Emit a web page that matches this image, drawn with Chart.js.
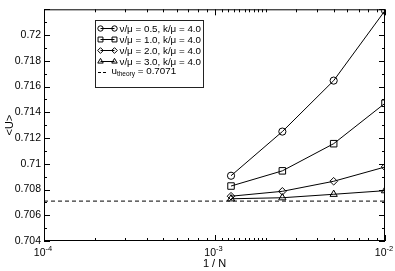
<!DOCTYPE html>
<html><head><meta charset="utf-8">
<script src="https://cdn.jsdelivr.net/npm/chart.js@4.4.0/dist/chart.umd.min.js"></script>
<style>html,body{margin:0;padding:0;background:#fff}#wrap{width:395px;height:271px;position:relative}</style>
</head><body><div id="wrap"><canvas id="c" width="395" height="271"></canvas></div>
<script>
// ---- data ----
const invN = [0.00125, 0.0025, 0.005, 0.01];
const uNu05 = [0.70907, 0.71250, 0.71646, 0.72190];
const uNu10 = [0.70827, 0.70945, 0.71156, 0.71470];
const uNu20 = [0.70748, 0.70786, 0.70864, 0.70975];
const uNu30 = [0.70728, 0.70736, 0.70763, 0.70791];
const uTheory = 0.7071;
const theoryX = [0.0001, 0.01];
const seriesLabels = ['ν/μ = 0.5, k/μ = 4.0', 'ν/μ = 1.0, k/μ = 4.0', 'ν/μ = 2.0, k/μ = 4.0', 'ν/μ = 3.0, k/μ = 4.0'];
const theoryLabel = ['u', 'theory', ' = 0.7071'];
const xMajorTicks = [1e-4, 1e-3, 1e-2];
const xMinorTicks = [2e-4,3e-4,4e-4,5e-4,6e-4,7e-4,8e-4,9e-4,
  1.1e-3,1.2e-3,1.3e-3,1.4e-3,1.5e-3,1.6e-3,1.7e-3,1.8e-3,1.9e-3,2e-3,
  3e-3,4e-3,5e-3,6e-3,7e-3,8e-3,9e-3];
const yMajorTicks = [0.704,0.706,0.708,0.710,0.712,0.714,0.716,0.718,0.720,0.722];
const yMinorTicks = [0.705,0.707,0.709,0.711,0.713,0.715,0.717,0.719,0.721];
const xTitle = '1 / N';
const yTitle = '<U>';

const FONT = "'Liberation Sans', Arial, Helvetica, sans-serif";
const styles = ['circle', 'rect', 'rectRot', 'triangle'];
const radii = [3.6, 4.6, 3.8, 4.2];
const seriesData = [uNu05, uNu10, uNu20, uNu30];

function mkSeries(i) {
  return {
    label: seriesLabels[i],
    data: invN.map((x, k) => ({x: x, y: seriesData[i][k]})),
    borderColor: '#000', borderWidth: 1, tension: 0,
    pointStyle: styles[i], pointRadius: radii[i],
    pointBorderColor: '#000', pointBackgroundColor: 'rgba(0,0,0,0)', pointBorderWidth: 1
  };
}

const datasets = [0,1,2,3].map(mkSeries);
datasets.push({
  label: theoryLabel.join(''),
  data: theoryX.map(x => ({x: x, y: uTheory})),
  borderColor: '#000', borderWidth: 1, borderDash: [4, 3], pointRadius: 0, tension: 0
});

function drawMarker(ctx, style, x, y, r) {
  ctx.beginPath();
  if (style === 'circle') ctx.arc(x, y, r, 0, Math.PI * 2);
  else if (style === 'rect') { const s = r * Math.SQRT1_2; ctx.rect(x - s, y - s, 2 * s, 2 * s); }
  else if (style === 'rectRot') { ctx.moveTo(x - r, y); ctx.lineTo(x, y - r); ctx.lineTo(x + r, y); ctx.lineTo(x, y + r); ctx.closePath(); }
  else if (style === 'triangle') {
    ctx.moveTo(x, y - r); ctx.lineTo(x + r * 0.866, y + r * 0.5); ctx.lineTo(x - r * 0.866, y + r * 0.5); ctx.closePath();
  }
  ctx.stroke();
}

const framePlugin = {
  id: 'frameTicks',
  afterDatasetsDraw(chart) {
    const ctx = chart.ctx, a = chart.chartArea;
    const xs = chart.scales.x, ys = chart.scales.y;
    ctx.save();
    ctx.strokeStyle = '#000'; ctx.lineWidth = 1;
    ctx.strokeRect(a.left + 0.5, a.top + 0.5, a.right - a.left - 1, a.bottom - a.top - 1);
    ctx.beginPath();
    const tickX = (v, len) => {
      const px = Math.round(xs.getPixelForValue(v)) + 0.5;
      ctx.moveTo(px, a.bottom); ctx.lineTo(px, a.bottom - len);
      ctx.moveTo(px, a.top); ctx.lineTo(px, a.top + len);
    };
    const tickY = (v, len) => {
      const py = Math.round(ys.getPixelForValue(v)) + 0.5;
      ctx.moveTo(a.left, py); ctx.lineTo(a.left + len, py);
      ctx.moveTo(a.right, py); ctx.lineTo(a.right - len, py);
    };
    xMajorTicks.forEach(v => tickX(v, 6));
    xMinorTicks.forEach(v => tickX(v, 3));
    yMajorTicks.forEach(v => tickY(v, 6));
    yMinorTicks.forEach(v => tickY(v, 3));
    ctx.stroke();

    // x tick labels: 10 with superscript exponent
    ctx.fillStyle = '#000';
    ctx.textBaseline = 'alphabetic';
    ctx.textAlign = 'left';
    xMajorTicks.forEach(v => {
      const e = String(Math.round(Math.log10(v)));
      const px = xs.getPixelForValue(v);
      ctx.font = '10.5px ' + FONT;
      const wb = ctx.measureText('10').width;
      ctx.font = '7.5px ' + FONT;
      const we = ctx.measureText(e).width;
      const x0 = px - (wb + we) / 2 - 1;
      ctx.font = '10.5px ' + FONT;
      ctx.fillText('10', x0, a.bottom + 15);
      ctx.font = '7.5px ' + FONT;
      ctx.fillText(e, x0 + wb, a.bottom + 10);
    });

    // legend
    const bx = 95.5, by = 20.5, bw = 108, bh = 67;
    ctx.fillStyle = '#fff';
    ctx.fillRect(bx, by, bw, bh);
    ctx.strokeStyle = '#222';
    ctx.strokeRect(bx, by, bw, bh);
    ctx.strokeStyle = '#000';
    ctx.fillStyle = '#000';
    ctx.textBaseline = 'middle';
    ctx.textAlign = 'left';
    ctx.font = '9.8px ' + FONT;
    for (let i = 0; i < 4; i++) {
      const y = 28.5 + i * 11;
      ctx.beginPath(); ctx.moveTo(100.5, y); ctx.lineTo(114.5, y); ctx.stroke();
      drawMarker(ctx, styles[i], 100.5, y, radii[i] * 0.75);
      drawMarker(ctx, styles[i], 114.5, y, radii[i] * 0.75);
      ctx.fillText(seriesLabels[i], 119.5, y + 0.5);
    }
    const ty = 28.5 + 4 * 11;
    ctx.save();
    ctx.setLineDash([3, 2]);
    ctx.beginPath(); ctx.moveTo(98, ty); ctx.lineTo(107, ty); ctx.stroke();
    ctx.restore();
    let tx = 111.5;
    ctx.font = '9.8px ' + FONT;
    ctx.fillText(theoryLabel[0], tx, ty - 1);
    tx += ctx.measureText(theoryLabel[0]).width;
    ctx.font = '6.5px ' + FONT;
    ctx.fillText(theoryLabel[1], tx, ty + 2);
    tx += ctx.measureText(theoryLabel[1]).width;
    ctx.font = '9.8px ' + FONT;
    ctx.fillText(theoryLabel[2], tx, ty - 1);
    ctx.restore();
  }
};

new Chart(document.getElementById('c'), {
  type: 'line',
  data: { datasets: datasets },
  plugins: [framePlugin],
  options: {
    responsive: false, animation: false, devicePixelRatio: 1,
    layout: { padding: { left: 0, right: 10, top: 2, bottom: 0 } },
    plugins: { legend: { display: false }, tooltip: { enabled: false } },
    scales: {
      x: {
        type: 'logarithmic', min: 1e-4, max: 1e-2,
        grid: { display: false, drawTicks: false },
        border: { display: false },
        afterFit: s => { s.height = 30; },
        ticks: { display: false },
        title: { display: true, text: xTitle, color: '#000', font: { family: FONT, size: 11 }, padding: { top: 0, bottom: 0 } }
      },
      y: {
        type: 'linear', min: 0.704, max: 0.722,
        grid: { display: false, drawTicks: false },
        border: { display: false },
        afterFit: s => { s.width = 44; },
        ticks: {
          stepSize: 0.002, padding: 3, color: '#000',
          font: { family: FONT, size: 10.5 },
          callback: function (v) {
            if (Math.abs(v - 0.722) < 1e-7) return '';
            return String(Number(v.toFixed(3)));
          }
        },
        title: { display: true, text: yTitle, color: '#000', font: { family: FONT, size: 11 }, padding: { top: 3, bottom: 0 } }
      }
    }
  }
});
</script>
</body></html>
